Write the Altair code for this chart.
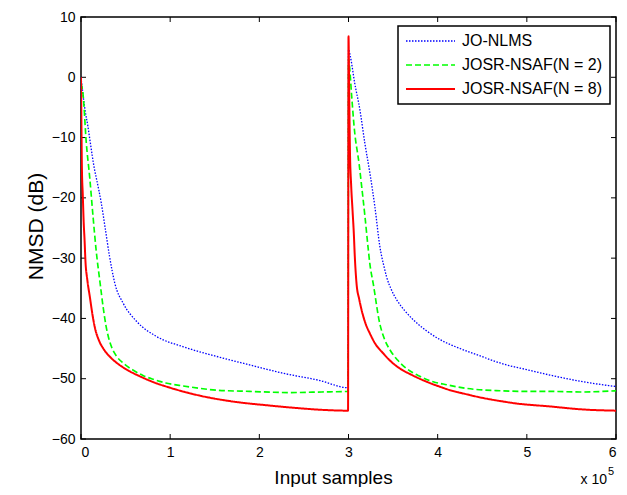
import altair as alt
import pandas as pd

# ---- data (x in units of 1e5 input samples, y in dB) ----
series_names = ["JO-NLMS", "JOSR-NSAF(N = 2)", "JOSR-NSAF(N = 8)"]
series_colors = ["#0000ff", "#00ff00", "#ff0000"]

blue_x = [0, 0.045, 0.078, 0.10, 0.153, 0.176, 0.228, 0.27, 0.32, 0.38, 0.474, 0.624, 0.848,
          1.147, 1.52, 1.89, 2.27, 2.68, 2.995,
          3.0, 3.02, 3.07, 3.128, 3.184, 3.24, 3.296, 3.352, 3.40, 3.427, 3.48, 3.54, 3.63,
          3.725, 3.87, 4.025, 4.20, 4.40, 4.77, 5.0, 5.26, 5.63, 6.0]
blue_y = [0, -5.4, -8.2, -10.4, -15.4, -17.0, -20.9, -24.9, -29.7, -34.2, -37.5, -40.5, -43.0,
          -44.7, -46.3, -47.7, -49.1, -50.3, -51.5,
          4.6, 3.5, -1.0, -5.4, -11.0, -15.9, -21.5, -28.1, -31.5, -33.1, -35.2, -36.9, -38.7,
          -40.2, -42.0, -43.5, -44.7, -45.8, -47.7, -48.5, -49.4, -50.5, -51.3]

green_x = [0, 0.022, 0.06, 0.097, 0.135, 0.172, 0.213, 0.25, 0.28, 0.306, 0.35, 0.40, 0.48,
           0.587, 0.7, 0.81, 0.95, 1.147, 1.52, 1.89, 2.34, 2.7, 2.995,
           3.0, 3.01, 3.035, 3.065, 3.12, 3.147, 3.184, 3.22, 3.24, 3.277, 3.35, 3.40, 3.464,
           3.55, 3.65, 3.8, 3.95, 4.1, 4.32, 4.70, 5.0, 5.26, 5.6, 6.0]
green_y = [-1, -2.7, -11.0, -16.5, -23.1, -29.0, -34.0, -38.3, -41.2, -43.0, -45.0, -46.3, -47.5,
           -48.6, -49.5, -50.1, -50.7, -51.2, -51.9, -52.1, -52.3, -52.2, -52.1,
           3.0, 2.0, -3.0, -8.5, -14.5, -18.0, -23.0, -28.3, -31.0, -34.2, -40.8, -43.3, -45.2,
           -46.9, -48.3, -49.6, -50.5, -51.0, -51.6, -52.0, -52.1, -52.1, -52.2, -52.0]

red_x = [0, 0.004, 0.01, 0.02, 0.03, 0.04, 0.05, 0.07, 0.10, 0.13, 0.16, 0.2, 0.25, 0.29, 0.37,
         0.44, 0.55, 0.66, 0.8, 1.0, 1.33, 1.71, 2.08, 2.45, 2.75, 2.995,
         3.0, 3.008, 3.016, 3.03, 3.045, 3.06, 3.07, 3.09, 3.12, 3.147, 3.19, 3.24, 3.3, 3.39,
         3.48, 3.576, 3.7, 3.876, 4.0, 4.14, 4.3, 4.51, 4.7, 4.88, 5.26, 5.63, 6.0]
red_y = [0, -6.5, -15.0, -19.5, -24.0, -27.0, -30.5, -33.5, -36.5, -39.5, -41.8, -43.6, -45.0,
         -45.8, -47.0, -47.8, -48.8, -49.6, -50.5, -51.5, -52.8, -53.8, -54.4, -54.9, -55.2, -55.3,
         6.8, -3.0, -12.0, -18.0, -22.0, -26.0, -29.5, -34.2, -36.8, -38.6, -40.8, -42.5, -44.2,
         -45.8, -47.2, -48.3, -49.3, -50.5, -51.2, -51.9, -52.5, -53.2, -53.7, -54.1, -54.6,
         -55.1, -55.3]

x_ticks = [0, 1, 2, 3, 4, 5, 6]
y_ticks = [-60, -50, -40, -30, -20, -10, 0, 10]

rows = []
for name, xs, ys in zip(series_names, [blue_x, green_x, red_x], [blue_y, green_y, red_y]):
    for xv, yv in zip(xs, ys):
        rows.append({"series": name, "x": xv, "y": yv})
df = pd.DataFrame(rows)

W, H = 535, 422
FONT = "Liberation Sans"
TL = 5  # inward tick length

xscale = alt.Scale(domain=[0, 6], nice=False, zero=False)
yscale = alt.Scale(domain=[-60, 10], nice=False, zero=False)

legend = alt.Legend(title=None, orient="none", legendX=317, legendY=9, clipHeight=16)

lines = alt.Chart(df).mark_line(clip=True, interpolate="monotone").encode(
    x=alt.X("x:Q", scale=xscale,
            axis=alt.Axis(values=x_ticks, format="d", ticks=False, domain=False, grid=False,
                          labelFontSize=14, labelFont=FONT, labelColor="black", labelPadding=6,
                          title="Input samples", titleFont=FONT, titleFontSize=19,
                          titleFontWeight="normal", titleColor="black",
                          titleX=252, titleY=44, titleAlign="center",
                          titleBaseline="alphabetic")),
    y=alt.Y("y:Q", scale=yscale,
            axis=alt.Axis(values=y_ticks, format="d", ticks=False, domain=False, grid=False,
                          labelFontSize=14, labelFont=FONT, labelColor="black", labelPadding=6,
                          title="NMSD (dB)", titleFont=FONT, titleFontSize=21,
                          titleFontWeight="normal", titleColor="black",
                          titleX=-39, titleY=209, titleAlign="center",
                          titleBaseline="alphabetic")),
    color=alt.Color("series:N", scale=alt.Scale(domain=series_names, range=series_colors),
                    legend=legend),
    strokeDash=alt.StrokeDash("series:N",
                              scale=alt.Scale(domain=series_names,
                                              range=[[1.5, 1.5], [6, 3], [1, 0]]),
                              legend=legend),
    strokeWidth=alt.StrokeWidth("series:N",
                                scale=alt.Scale(domain=series_names, range=[1.3, 2, 2]),
                                legend=legend),
    order=alt.Order("x:Q"),
)

xt = pd.DataFrame({"t": x_ticks})
yt = pd.DataFrame({"t": y_ticks})

bottom_ticks = alt.Chart(xt).mark_rule(color="black", strokeWidth=1).encode(
    x=alt.X("t:Q", scale=xscale), y=alt.value(H), y2=alt.value(H - TL))
top_ticks = alt.Chart(xt).mark_rule(color="black", strokeWidth=1).encode(
    x=alt.X("t:Q", scale=xscale), y=alt.value(0), y2=alt.value(TL))
left_ticks = alt.Chart(yt).mark_rule(color="black", strokeWidth=1).encode(
    y=alt.Y("t:Q", scale=yscale), x=alt.value(0), x2=alt.value(TL))
right_ticks = alt.Chart(yt).mark_rule(color="black", strokeWidth=1).encode(
    y=alt.Y("t:Q", scale=yscale), x=alt.value(W), x2=alt.value(W - TL))

exp_base = alt.Chart(pd.DataFrame({"a": [0]})).mark_text(
    text="x 10", font=FONT, fontSize=14, color="black", align="right",
    baseline="alphabetic", dx=-9, dy=45).encode(x=alt.datum(6), y=alt.datum(-60))
exp_pow = alt.Chart(pd.DataFrame({"a": [0]})).mark_text(
    text="5", font=FONT, fontSize=11, color="black", align="left",
    baseline="alphabetic", dx=-8, dy=36).encode(x=alt.datum(6), y=alt.datum(-60))

chart = alt.layer(
    bottom_ticks, top_ticks, left_ticks, right_ticks, lines, exp_base, exp_pow
).resolve_scale(
    x="shared", y="shared"
).properties(
    width=W, height=H,
    background="white",
    autosize=alt.AutoSizeParams(type="none"),
    padding={"left": 73, "top": 9, "right": 3, "bottom": 48},
).configure_view(
    stroke="black", strokeWidth=1.5
).configure_legend(
    strokeColor="black", fillColor="white", strokeWidth=1.5, padding=7,
    symbolType="stroke", symbolSize=2401, labelFont=FONT, labelFontSize=16,
    labelColor="black", labelOffset=6, rowPadding=8, cornerRadius=0,
    symbolLimit=0
)

chart.save("out.html", embed_options={"renderer": "svg", "actions": False})
